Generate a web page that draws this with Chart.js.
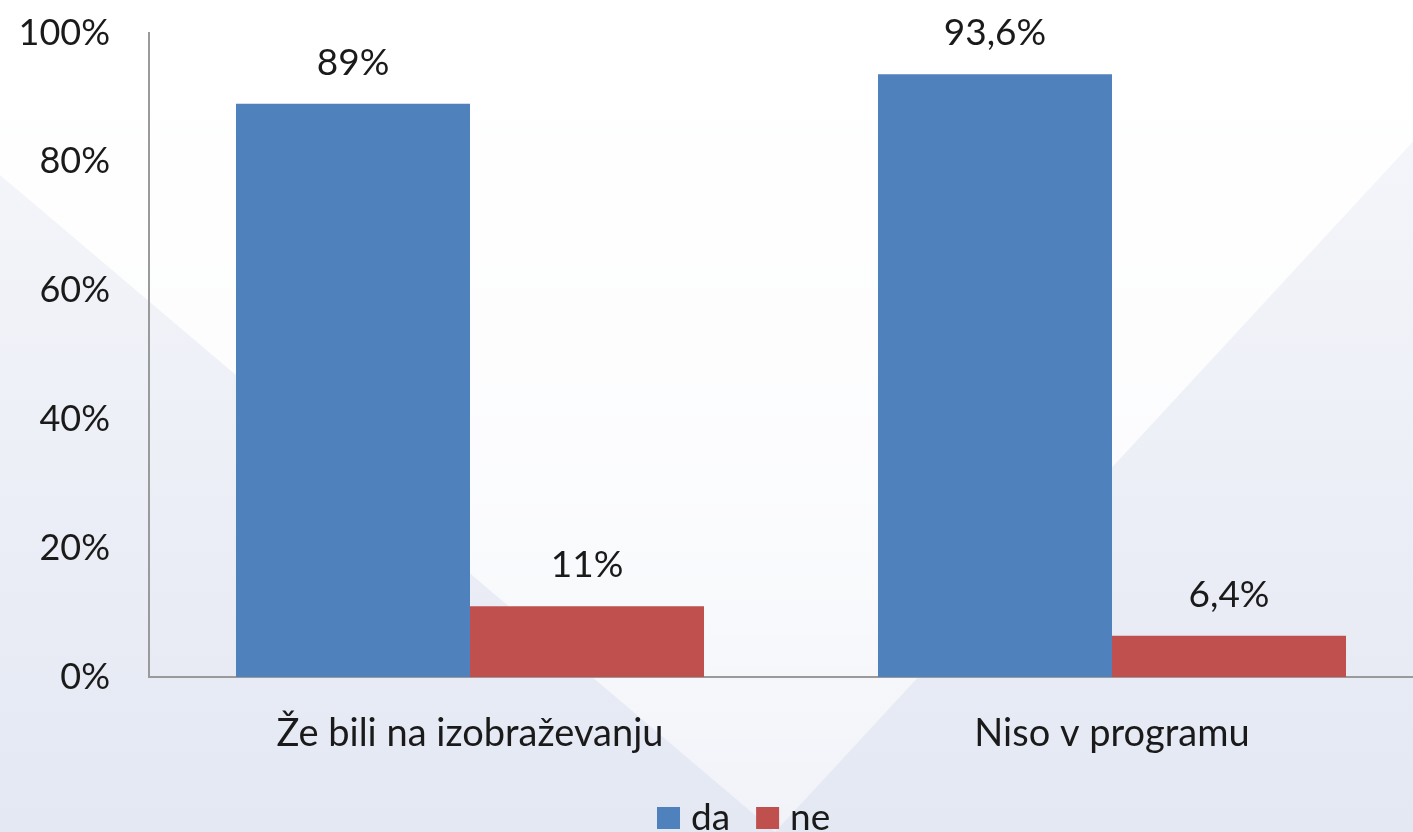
<!DOCTYPE html>
<html>
<head>
<meta charset="utf-8">
<script src="https://cdn.jsdelivr.net/npm/chart.js@4/dist/chart.umd.min.js"></script>
<style>
  html, body { margin: 0; padding: 0; overflow: hidden; background: #fff; }
  #wrap { width: 1413px; height: 832px; overflow: hidden; position: relative; }
  #box { width: 1433px; height: 832px; position: absolute; left: 0; top: 0; }
</style>
</head>
<body>
<div id="wrap"><div id="box"><canvas id="barChart"></canvas></div></div>
<script>
// data
const categories = ['Že bili na izobraževanju', 'Niso v programu'];
const seriesNames = ['da', 'ne'];
const daValues = [89, 93.6];
const neValues = [11, 6.4];
const yTicks = [0, 20, 40, 60, 80, 100];

const FONT = 'Lato, "Open Sans", sans-serif';
const colors = ['#4f81bd', '#c0504d'];

function pct(v){
  return String(v).replace('.', ',') + '%';
}

// soft office-style background
const bgPlugin = {
  id: 'bg',
  beforeDraw(chart){
    const c = chart.ctx;
    const w = chart.width, h = chart.height;
    c.save();
    const g = c.createLinearGradient(0, 0, 0, h);
    g.addColorStop(0, '#f7f8fb');
    g.addColorStop(1, '#e4e8f3');
    c.fillStyle = g;
    c.fillRect(0, 0, w, h);
    const g2 = c.createLinearGradient(0, 0, 0, h);
    g2.addColorStop(0, 'rgba(255,255,255,1)');
    g2.addColorStop(0.6, 'rgba(255,255,255,0.8)');
    g2.addColorStop(1, 'rgba(255,255,255,0.45)');
    c.fillStyle = g2;
    c.beginPath();
    c.moveTo(0, 0);
    c.lineTo(w, 0);
    c.lineTo(w, 120);
    c.lineTo(775, 832);
    c.lineTo(0, 175);
    c.closePath();
    c.fill();
    c.restore();
  }
};

// value labels above bars
const valueLabels = {
  id: 'valueLabels',
  afterDatasetsDraw(chart){
    const c = chart.ctx;
    c.save();
    c.font = '37px ' + FONT;
    c.fillStyle = '#1a1a1a';
    c.textAlign = 'center';
    c.textBaseline = 'middle';
    chart.data.datasets.forEach((ds, i) => {
      chart.getDatasetMeta(i).data.forEach((bar, j) => {
        c.fillText(pct(ds.data[j]), bar.x, bar.y - 41);
      });
    });
    c.restore();
  }
};

// legend at the bottom
const bottomLegend = {
  id: 'bottomLegend',
  afterDraw(chart){
    const c = chart.ctx;
    c.save();
    c.font = '37px ' + FONT;
    c.textBaseline = 'middle';
    let x = 657;
    const y = 818;
    chart.data.datasets.forEach((ds) => {
      c.fillStyle = ds.backgroundColor;
      c.fillRect(x, y - 11, 23, 22);
      x += 34;
      c.fillStyle = '#1a1a1a';
      c.fillText(ds.label, x, y);
      x += c.measureText(ds.label).width + 26;
    });
    c.restore();
  }
};

const ctx = document.getElementById('barChart');
const barChart = new Chart(ctx, {
  type: 'bar',
  data: {
    labels: categories,
    datasets: [
      { label: seriesNames[0], data: daValues, backgroundColor: colors[0] },
      { label: seriesNames[1], data: neValues, backgroundColor: colors[1] }
    ]
  },
  options: {
    responsive: true,
    maintainAspectRatio: false,
    animation: false,
    datasets: {
      bar: { categoryPercentage: 0.729, barPercentage: 1 }
    },
    layout: { padding: { top: 33, left: 0, right: 0, bottom: 0 } },
    plugins: {
      legend: { display: false },
      tooltip: { enabled: false }
    },
    scales: {
      x: {
        grid: { display: false, drawTicks: false },
        border: { color: '#9a9a9a', width: 2 },
        ticks: {
          color: '#1a1a1a',
          font: { family: FONT, size: 38 },
          padding: 34,
          maxRotation: 0
        },
        afterFit(scale){ scale.height = 155; scale.paddingLeft = 0; scale.paddingRight = 0; }
      },
      y: {
        min: 0,
        max: 100,
        grid: { display: false, drawTicks: false },
        border: { color: '#9a9a9a', width: 2 },
        afterBuildTicks(scale){
          scale.ticks = yTicks.map(v => ({ value: v }));
        },
        ticks: {
          color: '#1a1a1a',
          font: { family: FONT, size: 36 },
          padding: 39,
          callback: v => v + '%'
        },
        afterFit(scale){ scale.width = 149; scale.paddingTop = 0; scale.paddingBottom = 0; }
      }
    }
  },
  plugins: [bgPlugin, valueLabels, bottomLegend]
});
</script>
</body>
</html>
